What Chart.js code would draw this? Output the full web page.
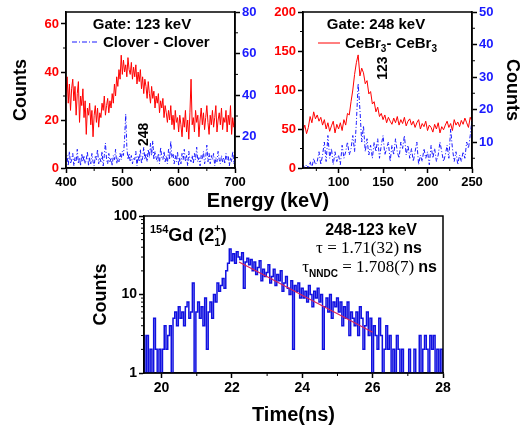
<!DOCTYPE html>
<html><head><meta charset="utf-8">
<script src="https://cdn.jsdelivr.net/npm/chart.js@4.4.1/dist/chart.umd.min.js"></script>
<style>
html,body{margin:0;padding:0;background:#fff;width:523px;height:427px;overflow:hidden;position:relative;}
.p{position:absolute;}
#energyTitle{position:absolute;left:168px;width:200px;top:189px;line-height:22px;text-align:center;font:bold 20px "Liberation Sans",Arial,sans-serif;color:#000;}
</style></head><body>
<div class="p" style="left:0;top:0;width:262px;height:200px"><canvas id="c1" width="262" height="200"></canvas></div>
<div class="p" style="left:262px;top:0;width:261px;height:200px"><canvas id="c2" width="261" height="200"></canvas></div>
<div class="p" style="left:0;top:205px;width:523px;height:222px"><canvas id="c3" width="523" height="222"></canvas></div>
<div id="energyTitle">Energy (keV)</div>
<script>
// ---------------- DATA ----------------
// Panel 1: gate 123 keV, Clover-Clover (red: left axis, blue: right axis), 2 keV bins from 400 keV
const p1Start = 400, p1Step = 2;
const p1Red = [30,38,27,35,24,33,37,28,34,22,31,
 36,19,30,26,33,21,28,14,25,22,
 27,18,24,13,22,26,19,25,17,23,
 21,27,24,30,22,26,29,23,28,25,
 31,27,35,30,38,34,41,37,47,39,
 45,40,43,38,46,41,39,44,37,42,
 38,43,35,40,36,41,33,38,31,37,
 34,29,36,31,27,34,29,32,25,30,
 27,31,23,28,25,29,21,26,23,19,
 24,20,26,18,22,16,24,19,21,15,
 22,18,13,21,17,24,15,20,12,23,
 37,18,21,15,24,19,22,13,20,25,
 18,23,16,21,26,19,14,22,18,24,
 17,21,26,15,20,23,18,25,16,21,
 19,24,15,22,18,26,14,21,17,20];
const p1Blue = [8,11,6,13,7,9,12,6,10,8,14,
 7,10,6,12,8,11,7,9,13,6,
 10,7,12,8,6,11,9,14,7,10,
 8,13,6,11,17,9,7,12,8,10,
 6,11,9,14,7,10,8,12,9,13,
 11,19,31,15,9,12,8,11,7,10,
 9,13,6,11,8,14,7,10,15,9,
 12,8,14,10,17,11,18,9,13,10,
 8,12,7,15,10,9,13,8,11,7,
 14,9,18,10,12,7,11,8,13,6,
 10,7,12,9,14,8,11,6,13,9,
 8,11,7,12,9,15,8,10,6,11,
 9,13,7,10,16,8,12,7,11,9,
 12,6,10,8,13,9,7,11,8,10,
 7,12,9,11,6,10,8,13,7,9];
const p1XTicks = [400,500,600,700];
const p1LTicks = [0,20,40,60];
const p1RTicks = [20,40,60,80];

// Panel 2: gate 248 keV, CeBr3-CeBr3, 2 keV bins from 60 keV
const p2Start = 60, p2Step = 2;
const p2Red = [48,55,44,52,66,58,72,63,68,60,
 65,55,62,50,58,47,54,60,45,56,
 50,58,48,62,55,70,68,85,100,120,
 135,145,118,128,122,108,112,95,98,82,
 85,72,78,66,70,62,68,58,65,60,
 56,64,58,66,55,62,57,65,54,60,
 63,55,60,52,58,62,50,57,53,60,
 48,55,52,46,56,50,58,45,53,49,
 55,60,52,57,48,62,55,59,53,61,
 56,64,58,52,65,60];
const p2Blue = [3,2,3,2,4,2,5,3,4,7,
 3,6,10,4,12,5,8,3,7,4,
 6,3,9,5,7,10,6,8,12,7,
 16,28,20,10,15,7,11,6,9,5,
 10,7,11,5,9,12,6,8,10,4,
 9,6,11,7,5,10,8,12,6,9,
 5,8,4,7,10,3,6,4,8,5,
 7,3,9,5,8,4,6,10,7,4,
 6,9,5,14,8,4,7,3,6,4,
 7,5,10,8,12,17];
const p2XTicks = [100,150,200,250];
const p2LTicks = [0,50,100,150,200];
const p2RTicks = [10,20,30,40,50];

// Panel 3: 154Gd time spectrum, 0.05 ns bins from 19.5 ns
const p3Start = 19.5, p3Step = 0.05;
const p3Counts = [3,1,3,1,2,1,5,2,1,2,
 1,2,4,2,3,4,1,5,6,4,
 7,5,6,4,7,8,5,6,14,1,
 6,8,5,7,4,9,2,6,8,5,
 10,8,14,11,13,16,12,20,25,38,
 27,33,25,35,30,28,34,12,26,29,
 24,28,20,26,18,22,27,15,21,17,
 19,24,14,17,21,13,18,15,20,11,
 14,17,12,10,15,2,13,11,14,9,
 12,9,11,8,13,10,7,11,9,12,
 8,10,2,7,9,6,10,5,8,7,
 9,6,8,4,7,5,8,3,6,5,
 4,6,3,7,5,2,4,6,3,5,
 1,4,3,2,5,3,1,2,4,2,
 3,1,2,1,3,2,1,2,1,1,
 1,2,1,1,2,1,1,3,1,2,
 3,2,1,3,2,3,1,2,1,2,
 1];
const fitTime = [22.2,23.1,24.05,25.0,26.0];
const fitCounts = [26,16,9.5,5.7,3.3];
const p3XTicks = [20,22,24,26,28];
const p3YTicks = [1,10,100];

// ---------------- HELPERS ----------------
const SANS = '"Liberation Sans", Arial, sans-serif';
const SERIF = '"Liberation Serif", "Times New Roman", serif';
const RED = '#ff0000', BLUE = '#1a1aff';
function pts(start, step, arr){ return arr.map((v,i)=>({x: start + step*i, y: v})); }
function axis(o){
  return {
    type: o.type || 'linear', position: o.pos, min: o.min, max: o.max,
    afterBuildTicks: s => { s.ticks = o.ticks.map(v => ({value: v})); },
    afterFit: s => { if (o.pos === 'bottom') s.height = o.size; else s.width = o.size; },
    grid: {display: true, drawOnChartArea: false, drawTicks: true, tickLength: 5, tickWidth: 1.5, tickColor: '#000', color: '#000'},
    border: {display: true, color: '#000', width: 1.5},
    ticks: {color: o.color, font: {family: SANS, weight: 'bold', size: o.fs}, padding: 2, maxRotation: 0, autoSkip: false, callback: v => String(v)},
    title: o.title ? {display: true, text: o.title, color: '#000', font: {family: SANS, weight: 'bold', size: o.tfs}, padding: 0} : {display: false}
  };
}
function rich(ctx, parts, x, y, align){
  let w = 0;
  parts.forEach(p => { ctx.font = p.f; p.w = ctx.measureText(p.t).width; w += p.w; });
  let cx = align === 'right' ? x - w : (align === 'center' ? x - w/2 : x);
  parts.forEach(p => { ctx.font = p.f; ctx.fillText(p.t, cx, y + (p.dy || 0)); cx += p.w; });
  return cx;
}
function decor(minor, draw){
  return {
    id: 'decor',
    afterDraw(chart){
      const ctx = chart.ctx, a = chart.chartArea;
      ctx.save();
      ctx.strokeStyle = '#000'; ctx.lineWidth = 1.5;
      ctx.strokeRect(a.left, a.top, a.right - a.left, a.bottom - a.top);
      ctx.lineWidth = 1;
      minor.forEach(m => {
        const s = chart.scales[m.id];
        m.vals.forEach(v => {
          const p = s.getPixelForValue(v);
          ctx.beginPath();
          if (s.position === 'left') { ctx.moveTo(a.left, p); ctx.lineTo(a.left - 3, p); }
          else if (s.position === 'right') { ctx.moveTo(a.right, p); ctx.lineTo(a.right + 3, p); }
          else { ctx.moveTo(p, a.bottom); ctx.lineTo(p, a.bottom + 3); }
          ctx.stroke();
        });
      });
      ctx.fillStyle = '#000'; ctx.textBaseline = 'alphabetic';
      draw(chart, ctx, a);
      ctx.restore();
    }
  };
}
const common = {responsive: false, animation: false, events: [],
  plugins: {legend: {display: false}, tooltip: {enabled: false}},
  elements: {point: {radius: 0}}};

// ---------------- PANEL 1 ----------------
new Chart(document.getElementById('c1'), {
  type: 'line',
  data: {datasets: [
    {data: pts(p1Start, p1Step, p1Red), borderColor: RED, borderWidth: 1, yAxisID: 'yL'},
    {data: pts(p1Start, p1Step, p1Blue), borderColor: BLUE, borderWidth: 1, borderDash: [4,2,1,2], yAxisID: 'yR'}
  ]},
  options: Object.assign({}, common, {
    layout: {padding: {top: 12, left: 10, right: 0, bottom: 0}},
    scales: {
      x: axis({pos: 'bottom', min: 400, max: 700, ticks: p1XTicks, size: 32, color: '#000', fs: 13}),
      yL: axis({pos: 'left', min: 0, max: 65, ticks: p1LTicks, size: 56, color: RED, fs: 13, title: 'Counts', tfs: 18}),
      yR: axis({pos: 'right', min: 5, max: 80, ticks: p1RTicks, size: 27, color: BLUE, fs: 13})
    }
  }),
  plugins: [decor([
      {id: 'x', vals: [450,550,650]}, {id: 'yL', vals: [10,30,50]}, {id: 'yR', vals: [10,30,50,70]}],
    (chart, ctx, a) => {
      ctx.textAlign = 'left';
      rich(ctx, [{t: 'Gate: 123 keV', f: 'bold 15px ' + SANS}], 142, 29, 'center');
      ctx.strokeStyle = BLUE; ctx.lineWidth = 1; ctx.setLineDash([5,2,1,2]);
      ctx.beginPath(); ctx.moveTo(72, 42); ctx.lineTo(97, 42); ctx.stroke(); ctx.setLineDash([]);
      rich(ctx, [{t: 'Clover - Clover', f: 'bold 15px ' + SANS}], 103, 47, 'left');
      const x = chart.scales.x.getPixelForValue(536), y = chart.scales.yL.getPixelForValue(14);
      ctx.save(); ctx.translate(x + 5, y); ctx.rotate(-Math.PI/2);
      ctx.font = 'bold 14px ' + SANS; ctx.textAlign = 'center'; ctx.fillText('248', 0, 0);
      ctx.restore();
    })]
});

// ---------------- PANEL 2 ----------------
new Chart(document.getElementById('c2'), {
  type: 'line',
  data: {datasets: [
    {data: pts(p2Start, p2Step, p2Red), borderColor: RED, borderWidth: 1, yAxisID: 'yL'},
    {data: pts(p2Start, p2Step, p2Blue), borderColor: BLUE, borderWidth: 1, borderDash: [4,2,1,2], yAxisID: 'yR'}
  ]},
  options: Object.assign({}, common, {
    layout: {padding: {top: 12, left: 0, right: 0, bottom: 0}},
    scales: {
      x: axis({pos: 'bottom', min: 60, max: 250, ticks: p2XTicks, size: 32, color: '#000', fs: 13}),
      yL: axis({pos: 'left', min: 0, max: 200, ticks: p2LTicks, size: 41, color: RED, fs: 13}),
      yR: axis({pos: 'right', min: 2, max: 50, ticks: p2RTicks, size: 51, color: BLUE, fs: 13, title: 'Counts', tfs: 18})
    }
  }),
  plugins: [decor([
      {id: 'x', vals: [75,125,175,225]}, {id: 'yL', vals: [25,75,125,175]}, {id: 'yR', vals: [5,15,25,35,45]}],
    (chart, ctx, a) => {
      rich(ctx, [{t: 'Gate: 248 keV', f: 'bold 15px ' + SANS}], 114, 29, 'center');
      ctx.strokeStyle = RED; ctx.lineWidth = 1;
      ctx.beginPath(); ctx.moveTo(56, 43); ctx.lineTo(78, 43); ctx.stroke();
      const B = 'bold 15px ' + SANS, S = 'bold 10px ' + SANS;
      rich(ctx, [{t: 'CeBr', f: B}, {t: '3', f: S, dy: 4}, {t: '- CeBr', f: B}, {t: '3', f: S, dy: 4}], 83, 48, 'left');
      const x = chart.scales.x.getPixelForValue(149), y = chart.scales.yL.getPixelForValue(128);
      ctx.save(); ctx.translate(x + 5, y); ctx.rotate(-Math.PI/2);
      ctx.font = 'bold 14px ' + SANS; ctx.textAlign = 'center'; ctx.fillText('123', 0, 0);
      ctx.restore();
    })]
});

// ---------------- PANEL 3 ----------------
new Chart(document.getElementById('c3'), {
  type: 'line',
  data: {datasets: [
    {data: fitTime.map((t,i) => ({x: t, y: fitCounts[i]})), borderColor: '#d8245a', borderWidth: 1.2},
    {data: pts(p3Start, p3Step, p3Counts), borderColor: '#1010e0', borderWidth: 1.5, stepped: 'middle'}
  ]},
  options: Object.assign({}, common, {
    layout: {padding: {top: 11, left: 90, right: 80, bottom: 0}},
    scales: {
      x: axis({pos: 'bottom', min: 19.5, max: 28, ticks: p3XTicks, size: 54, color: '#000', fs: 14, title: 'Time(ns)', tfs: 20}),
      y: axis({type: 'logarithmic', pos: 'left', min: 1, max: 100, ticks: p3YTicks, size: 54, color: '#000', fs: 14, title: 'Counts', tfs: 18})
    }
  }),
  plugins: [decor([
      {id: 'x', vals: [21,23,25,27]}, {id: 'y', vals: [2,3,4,5,6,7,8,9,20,30,40,50,60,70,80,90]}],
    (chart, ctx, a) => {
      const G = 'bold 18px ' + SANS, s = 'bold 11px ' + SANS;
      let cx = rich(ctx, [{t: '154', f: s, dy: -8}, {t: 'Gd (2', f: G}], 150, 36, 'left');
      ctx.font = s; ctx.fillText('+', cx, 27); ctx.fillText('1', cx, 41);
      cx += ctx.measureText('+').width;
      ctx.font = G; ctx.fillText(')', cx, 36);
      rich(ctx, [{t: '248-123 keV', f: 'bold 16px ' + SANS}], 371, 30, 'center');
      rich(ctx, [{t: '\u03C4 = 1.71(32) ', f: '17px ' + SERIF}, {t: 'ns', f: 'bold 16px ' + SANS}], 422, 48, 'right');
      rich(ctx, [{t: '\u03C4', f: '17px ' + SERIF}, {t: 'NNDC', f: 'bold 10px ' + SANS, dy: 5}, {t: ' = 1.708(7) ', f: '17px ' + SERIF}, {t: 'ns', f: 'bold 16px ' + SANS}], 437, 67, 'right');
    })]
});
</script>
</body></html>
